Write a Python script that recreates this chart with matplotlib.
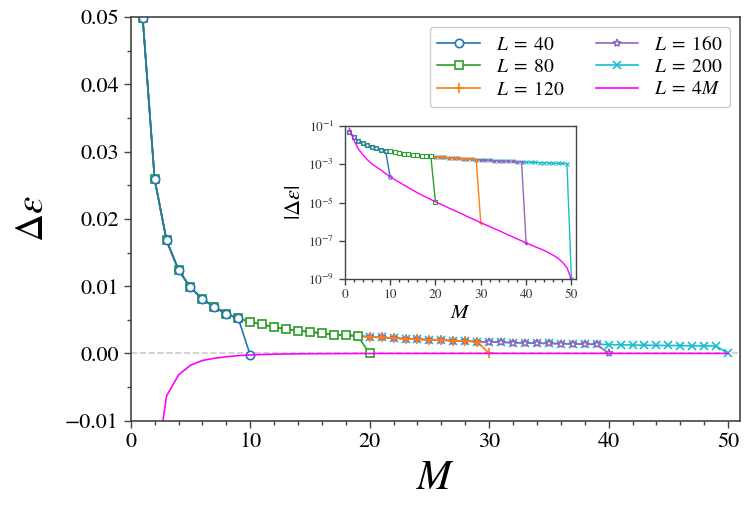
import matplotlib
matplotlib.use("Agg")
import matplotlib.pyplot as plt
from matplotlib.ticker import MultipleLocator, FixedLocator, NullLocator, NullFormatter, FuncFormatter
import numpy as np

plt.rcParams['font.family'] = ['STIXGeneral', 'DejaVu Serif']
plt.rcParams['mathtext.fontset'] = 'stix'

# ---------------- data ----------------
M_all = list(range(1, 51))
# common Delta epsilon values for M = 1..49 (before the final drop)
env = [0.0499, 0.0259, 0.0168, 0.0124, 0.0098, 0.0081, 0.0069, 0.0059, 0.0052, 0.0047,
       0.0043, 0.0039, 0.0036, 0.0034, 0.0032, 0.0030, 0.0028, 0.0027, 0.0026, 0.00245,
       0.00237, 0.00228, 0.00219, 0.00211, 0.00204, 0.00197, 0.00190, 0.00184, 0.00176, 0.00170,
       0.00165, 0.00160, 0.00156, 0.00152, 0.00148, 0.00145, 0.00141, 0.00138, 0.00135, 0.00131,
       0.00128, 0.00125, 0.00122, 0.00120, 0.00118, 0.00116, 0.00114, 0.00112, 0.00109]
# L = 4M curve (negative values)
d_4M = [-7.6e-2, -1.86e-2, -6.3e-3, -3.2e-3, -1.75e-3, -1.05e-3, -7.2e-4, -5.0e-4, -3.3e-4, -2.3e-4,
        -1.62e-4, -1.17e-4, -8.5e-5, -6.2e-5, -4.5e-5, -3.3e-5, -2.5e-5, -1.9e-5, -1.45e-5, -1.12e-5,
        -8.7e-6, -6.8e-6, -5.2e-6, -4.1e-6, -3.2e-6, -2.5e-6, -1.9e-6, -1.5e-6, -1.17e-6, -9.1e-7,
        -7.1e-7, -5.6e-7, -4.4e-7, -3.5e-7, -2.7e-7, -2.1e-7, -1.66e-7, -1.29e-7, -1.02e-7, -7.9e-8,
        -6.3e-8, -5.0e-8, -4.0e-8, -3.2e-8, -2.4e-8, -1.8e-8, -1.26e-8, -7.9e-9, -4.0e-9, -1.0e-9]
L_values = [40, 80, 120, 160, 200]
M_max = [10, 20, 30, 40, 50]
last_vals = [-2.3e-4, -1.12e-5, -9.1e-7, -7.9e-8, -1.0e-9]
labels = [r'$L\;=\;40$', r'$L\;=\;80$', r'$L\;=\;120$', r'$L\;=\;160$', r'$L\;=\;200$']
label_4M = r'$L\;=\;4M$'
inset_yticks = [1e-9, 1e-7, 1e-5, 1e-3, 1e-1]

colors = ['#1f77b4', '#2ca02c', '#ff7f0e', '#9467bd', '#17becf']
markers = ['o', 's', '+', '*', 'x']
msizes = [6, 6, 7, 6, 6]
mag = '#ff00ff'

series = []
for n, lv in zip(M_max, last_vals):
    Ms = M_all[:n]
    vals = env[:n - 1] + [lv]
    series.append((Ms, vals))

# ---------------- figure ----------------
fig = plt.figure(figsize=(7.5, 5.11), dpi=100)
ax = fig.add_axes([0.1743, 0.1767, 0.8124, 0.790])

spine_col = '#444444'
ax.axhline(0, color='#cccccc', ls='--', lw=1.2, zorder=0)

handles = [None] * 5
for i in reversed(range(5)):
    Ms, vals = series[i]
    mfc = 'white' if markers[i] in ('o', 's', '*') else colors[i]
    h, = ax.plot(Ms, vals, color=colors[i], marker=markers[i], ms=msizes[i],
                 mfc=mfc, mec=colors[i], mew=1.2, lw=1.2, label=labels[i])
    handles[i] = h
h4, = ax.plot(M_all, d_4M, color=mag, lw=1.2, label=label_4M)

ax.set_xlim(0, 51)
ax.set_ylim(-0.01, 0.05)
ax.xaxis.set_major_locator(MultipleLocator(10))
ax.xaxis.set_minor_locator(MultipleLocator(2))
ax.yaxis.set_major_locator(MultipleLocator(0.01))
ax.yaxis.set_minor_locator(MultipleLocator(0.005))
ax.yaxis.set_major_formatter(FuncFormatter(
    lambda v, p: ('\u2212%.2f' % abs(v)) if v < -1e-12 else '%.2f' % abs(v)))
ax.tick_params(which='major', length=5, width=1, colors=spine_col, labelcolor='black',
               labelsize=16)
ax.tick_params(which='minor', length=3, width=1, colors=spine_col)
for s in ax.spines.values():
    s.set_color(spine_col)
    s.set_linewidth(1.2)
ax.set_xlabel(r'$M$', fontsize=30, labelpad=6)
ax.set_ylabel(r'$\Delta\varepsilon$', fontsize=28, labelpad=10)

leg = ax.legend(handles=handles + [h4], ncol=2, loc='upper right', fontsize=14,
                frameon=True, fancybox=True, framealpha=1, edgecolor='#cccccc',
                handlelength=2.2, columnspacing=1.6, borderaxespad=0.5,
                handletextpad=0.8, labelspacing=0.25)

# ---------------- inset ----------------
axi = fig.add_axes([0.4596, 0.4534, 0.3084, 0.300])
for i in reversed(range(5)):
    Ms, vals = series[i]
    mfc = 'white' if markers[i] in ('o', 's', '*') else colors[i]
    axi.plot(Ms, np.abs(vals), color=colors[i], marker=markers[i], ms=2.5,
             mfc=mfc, mec=colors[i], mew=0.8, lw=1.0)
axi.plot(M_all, np.abs(d_4M), color=mag, lw=1.0)
axi.set_yscale('log')
axi.set_xlim(0, 51)
axi.set_ylim(1e-9, 1e-1)
axi.xaxis.set_major_locator(MultipleLocator(10))
axi.xaxis.set_minor_locator(MultipleLocator(2))
axi.yaxis.set_major_locator(FixedLocator(inset_yticks))
axi.yaxis.set_minor_locator(NullLocator())
axi.tick_params(which='major', length=4, width=1, colors=spine_col, labelcolor='#333333',
                labelsize=9.5)
axi.tick_params(which='minor', length=2.5, width=1, colors=spine_col)
for s in axi.spines.values():
    s.set_color(spine_col)
    s.set_linewidth(1.0)
axi.set_xlabel(r'$M$', fontsize=15, labelpad=1)
axi.set_ylabel(r'$|\Delta\varepsilon|$', fontsize=16, labelpad=2)

fig.savefig('out.png', dpi=100)
